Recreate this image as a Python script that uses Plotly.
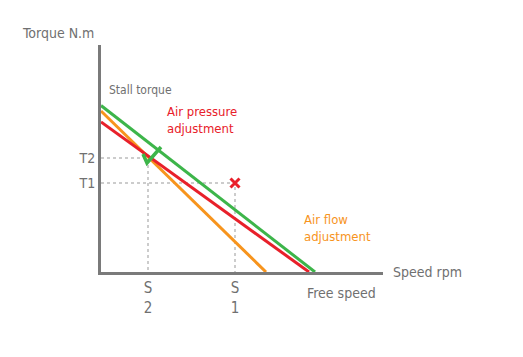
import plotly.graph_objects as go

# data (x: speed, y: torque, arbitrary units)
speed_endpoints = [0, 282]
torque_max = 227
green_line_speed = [0, 214]
green_line_torque = [166.5, 0]
orange_line_speed = [0, 165]
orange_line_torque = [161, 0]
red_line_speed = [0, 208]
red_line_torque = [150, 0]
T_vals = [89, 114]
T_labels = ["T1", "T2"]
S_vals = [47, 134]
S_labels = ["S<br>2", "S<br>1"]

GREEN = "#3db54a"
ORANGE = "#f7941d"
RED = "#e8202a"
GRAY = "#7a7a7a"
TXT = "#707070"
FONT = "DejaVu Sans Condensed, Liberation Sans Narrow, sans-serif"

fig = go.Figure()

# dotted guides
fig.add_trace(go.Scatter(x=[0, S_vals[0], S_vals[0]], y=[T_vals[1], T_vals[1], 0], mode="lines",
                         line=dict(color="#999999", width=1, dash="dot"), hoverinfo="skip"))
fig.add_trace(go.Scatter(x=[0, S_vals[1], S_vals[1]], y=[T_vals[0], T_vals[0], 0], mode="lines",
                         line=dict(color="#999999", width=1, dash="dot"), hoverinfo="skip"))

fig.add_trace(go.Scatter(x=orange_line_speed, y=orange_line_torque, mode="lines",
                         line=dict(color=ORANGE, width=3)))
fig.add_trace(go.Scatter(x=red_line_speed, y=red_line_torque, mode="lines",
                         line=dict(color=RED, width=3)))
fig.add_trace(go.Scatter(x=green_line_speed, y=green_line_torque, mode="lines",
                         line=dict(color=GREEN, width=3)))

# check mark near (S2, T2)
s2, t2 = S_vals[0], T_vals[1]
fig.add_trace(go.Scatter(x=[s2 - 5, s2 - 1, s2 + 13], y=[t2 + 4, t2 - 5, t2 + 11], mode="lines",
                         line=dict(color=GREEN, width=3.5)))
# cross at (S1, T1)
fig.add_trace(go.Scatter(x=[S_vals[1]], y=[T_vals[0]], mode="markers",
                         marker=dict(symbol="x-thin", size=9, line=dict(color=RED, width=3))))

ann = [
    dict(x=0, y=1, xref="paper", yref="paper", text="Torque N.m", xanchor="right", yanchor="bottom",
         xshift=-5, yshift=2, font=dict(size=14, color=TXT)),
    dict(x=6, y=182, text="Stall torque", xanchor="left", yanchor="middle", font=dict(size=12, color=TXT)),
    dict(x=64, y=152, text="Air pressure<br>adjustment", xanchor="left", yanchor="middle", align="left",
         font=dict(size=13, color=RED)),
    dict(x=201, y=44, text="Air flow<br>adjustment", xanchor="left", yanchor="middle", align="left",
         font=dict(size=13, color=ORANGE)),
    dict(x=1, y=0, xref="paper", yref="y", text="Speed rpm", xanchor="left", yanchor="middle",
         xshift=8, yshift=0, font=dict(size=14, color=TXT)),
    dict(x=240, y=0, text="Free speed", xanchor="center", yanchor="middle", yshift=-21,
         font=dict(size=14, color=TXT)),
]
for a in ann:
    a["showarrow"] = False

# the page body adds an 8px offset, so the figure is sized to compensate
fig.update_layout(
    width=515, height=349,
    margin=dict(l=93, r=140, t=37, b=85),
    plot_bgcolor="white", paper_bgcolor="white",
    showlegend=False,
    font=dict(family=FONT, color=TXT, size=13),
    annotations=ann,
    xaxis=dict(range=speed_endpoints, showgrid=False, zeroline=False, showline=True, linewidth=3,
               linecolor=GRAY, tickvals=S_vals, ticktext=S_labels, ticks="", tickfont=dict(size=15, color=TXT),
               fixedrange=True),
    yaxis=dict(range=[0, torque_max], showgrid=False, zeroline=False, showline=True, linewidth=3,
               linecolor=GRAY, tickvals=T_vals, ticktext=T_labels, ticks="", tickfont=dict(size=14, color=TXT),
               fixedrange=True),
)

fig.write_html("out.html")
